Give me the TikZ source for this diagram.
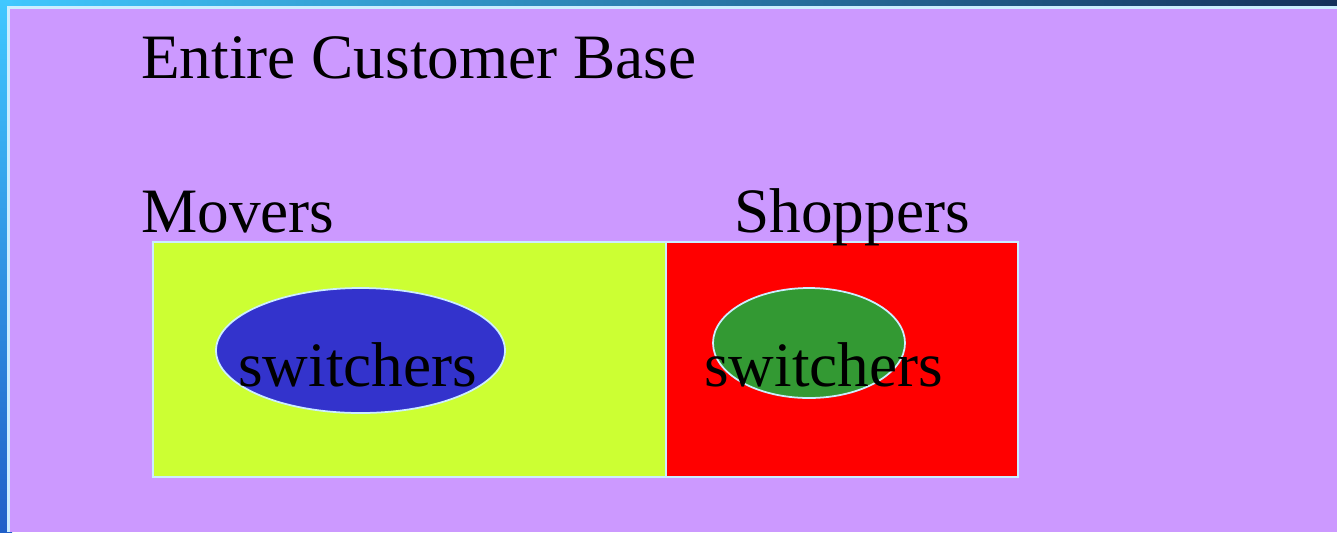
\documentclass[tikz,border=0pt]{standalone}
\usepackage{fontspec}
\setmainfont{Liberation Serif}
\definecolor{panel}{HTML}{CC99FF}
\definecolor{edge}{HTML}{CCEEFF}
\definecolor{lime}{HTML}{CCFF33}
\definecolor{blueell}{HTML}{3333CC}
\definecolor{greenell}{HTML}{339933}
\definecolor{bgcyan}{HTML}{40C8FF}
\definecolor{bgnavy}{HTML}{15305A}
\definecolor{bgblue}{HTML}{2060C8}
\tikzset{
  lbl/.style={anchor=base west, inner sep=0pt, font=\fontsize{36}{40}\selectfont, text=black},
  box/.style={draw=edge, line width=1pt},
}
\begin{document}
\begin{tikzpicture}[x=0.02cm, y=-0.02cm]
\useasboundingbox (0,0) rectangle (1337,532);
% background gradient border
\shade[left color=bgcyan, right color=bgnavy] (0,0) rectangle (1337,12);
\shade[top color=bgcyan, bottom color=bgblue] (0,0) rectangle (12,532);
% panel
\fill[edge] (7,6) rectangle (1337,532);
\fill[panel] (10,9) rectangle (1337,532);
% boxes
\node[box, fill=lime, minimum width=513*0.02cm, minimum height=235*0.02cm, inner sep=0pt, anchor=north west] (movbox) at (152,241) {};
\node[box, fill=red, minimum width=352*0.02cm, minimum height=235*0.02cm, inner sep=0pt, anchor=north west] (shopbox) at (665,241) {};
% ellipses
\fill[blueell, draw=edge, line width=1pt] (360.5,350.5) ellipse [x radius=144.5, y radius=62.5];
\fill[greenell, draw=edge, line width=1pt] (809,343) ellipse [x radius=96, y radius=55];
% labels
\node[lbl] (title) at (141,78) {Entire Customer Base};
\node[lbl] (movers) at (141,232) {Movers};
\node[lbl] (shoppers) at (734,232) {Shoppers};
\node[lbl] (sw1) at (238,386) {switchers};
\node[lbl] (sw2) at (704,386) {switchers};
\end{tikzpicture}
\end{document}
